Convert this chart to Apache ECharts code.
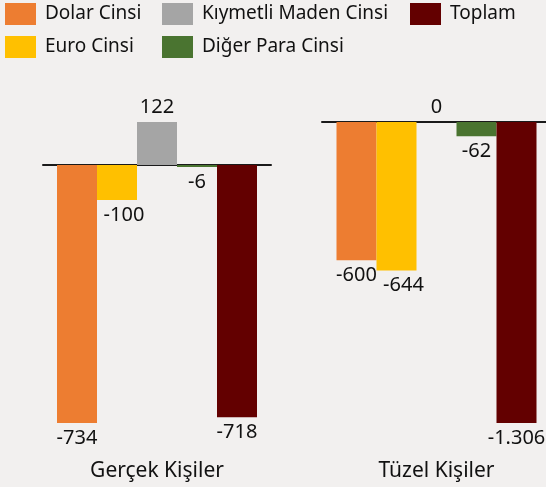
<!DOCTYPE html>
<html>
<head>
<meta charset="utf-8">
<script src="https://cdn.jsdelivr.net/npm/echarts@6/dist/echarts.min.js"></script>
<style>
  html, body { margin: 0; background: #f2f0ef; }
  #chart { width: 546px; height: 487px; }
</style>
</head>
<body>
<div id="chart"></div>
<script>
// veriler (milyon)
const categories = ['Gerçek Kişiler', 'Tüzel Kişiler']
const seriesNames = ['Dolar Cinsi', 'Euro Cinsi', 'Kıymetli Maden Cinsi', 'Diğer Para Cinsi', 'Toplam']
const dolar = [-734, -600]
const euro = [-100, -644]
const kiymetli = [122, 0]
const diger = [-6, -62]
const toplam = [-718, -1306]

const colors = ['#ed7d31', '#ffc000', '#a5a5a5', '#4a7430', '#630000']
const font = 'Noto Sans'

// binlik ayırıcı nokta
function fmt(v) {
  const s = Math.abs(v).toString().replace(/\B(?=(\d{3})+(?!\d))/g, '.')
  return (v < 0 ? '-' : '') + s
}

const chart = echarts.init(document.getElementById('chart'))

const allValues = [dolar, euro, kiymetli, diger, toplam]
const grids = [
  { left: 43, top: 122, width: 228, height: 301, outerBoundsMode: 'none' },
  { left: 322, top: 122, width: 229, height: 301, outerBoundsMode: 'none' }
]

const xAxis = []
const yAxis = []
const series = []

categories.forEach((cat, g) => {
  const vals = allValues.map((arr) => arr[g])
  yAxis.push({
    type: 'value',
    gridIndex: g,
    show: false,
    min: Math.min(...vals),
    max: Math.max(...vals)
  })
})
// kategori etiketleri
categories.forEach((cat, g) => {
  xAxis.push({
    type: 'category',
    gridIndex: g,
    position: 'bottom',
    data: [cat],
    axisLine: { show: false, onZero: false },
    axisTick: { show: false },
    axisLabel: { margin: 38, fontSize: 21, fontFamily: font, color: '#111' }
  })
})
// sıfır çizgisi
categories.forEach((cat, g) => {
  xAxis.push({
    type: 'category',
    gridIndex: g,
    position: 'bottom',
    data: [cat],
    axisLine: { show: true, onZero: true, lineStyle: { color: '#1a1a1a', width: 2 } },
    axisTick: { show: false },
    axisLabel: { show: false }
  })
})

categories.forEach((cat, g) => {
  seriesNames.forEach((name, i) => {
    const v = allValues[i][g]
    series.push({
      name: name,
      type: 'bar',
      xAxisIndex: g,
      yAxisIndex: g,
      barWidth: 40,
      barGap: '0%',
      itemStyle: { color: colors[i] },
      label: {
        show: true,
        distance: 5,
        fontSize: 20,
        fontFamily: font,
        color: '#111',
        offset: i === 1 ? [7, 0] : [0, 0],
        formatter: (p) => fmt(p.value)
      },
      data: [{ value: v, label: { position: v >= 0 ? 'top' : 'bottom' } }]
    })
  })
})

const legendBase = {
  orient: 'vertical',
  top: 3,
  padding: 0,
  itemWidth: 31,
  itemHeight: 22,
  itemGap: 11,
  icon: 'rect',
  textStyle: { fontSize: 19, fontFamily: font, color: '#111', padding: [0, 0, 0, 4] }
}

chart.setOption({
  backgroundColor: '#f2f0ef',
  animation: false,
  legend: [
    Object.assign({ left: 5, data: ['Dolar Cinsi', 'Euro Cinsi'] }, legendBase),
    Object.assign({ left: 162, data: ['Kıymetli Maden Cinsi', 'Diğer Para Cinsi'] }, legendBase),
    Object.assign({ left: 410, data: ['Toplam'] }, legendBase)
  ],
  grid: grids,
  xAxis: xAxis,
  yAxis: yAxis,
  series: series
})
</script>
</body>
</html>
